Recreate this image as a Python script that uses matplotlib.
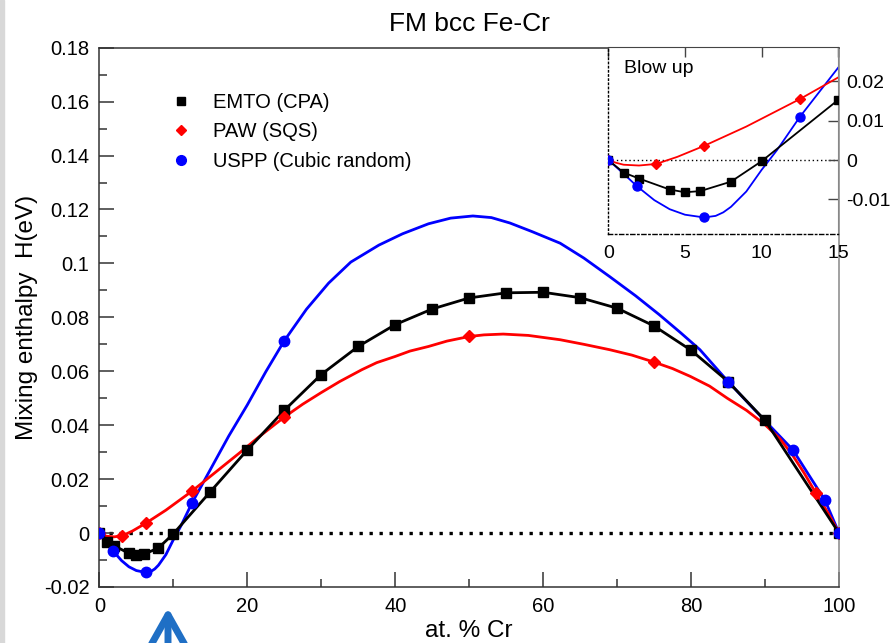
import matplotlib
matplotlib.use("Agg")
import matplotlib.pyplot as plt
from matplotlib.ticker import MultipleLocator, FormatStrFormatter
from matplotlib.patches import Rectangle

plt.rcParams['font.family'] = ['Liberation Sans', 'DejaVu Sans']
plt.rcParams['axes.unicode_minus'] = False

# EMTO (CPA) points, at.% Cr vs mixing enthalpy (eV)
emto_x = [0, 1, 2, 4, 5, 6, 8, 10, 15, 20, 25, 30, 35, 40, 45, 50, 55, 60, 65, 70, 75, 80, 85, 90, 100]
emto_y = [0, -0.0032, -0.0047, -0.0075, -0.0082, -0.0079, -0.0055, -0.0003, 0.0153, 0.0308, 0.0455,
          0.0588, 0.0692, 0.0773, 0.0831, 0.0872, 0.0891, 0.0893, 0.0873, 0.0834, 0.0768, 0.0678,
          0.0562, 0.0418, 0]

# PAW (SQS) points
paw_x = [0, 3.125, 6.25, 12.5, 25, 50, 75, 96.875, 100]
paw_y = [0, -0.001, 0.0036, 0.0155, 0.043, 0.0729, 0.0634, 0.0148, 0]

# USPP (cubic random) points
uspp_x = [0, 1.85, 6.25, 12.5, 25, 85, 93.75, 98.1, 100]
uspp_y = [0, -0.0066, -0.0146, 0.011, 0.0713, 0.0562, 0.0309, 0.0122, 0]

# fitted curves through PAW and USPP data
paw_cx = [0, 0.5, 1, 2, 3.125, 4.5, 6.25, 9, 12.5, 15, 18.9, 21.5, 25, 27.5, 30, 32.5, 35.5,
          37.5, 40, 42, 44.5, 47, 50, 52, 54.6, 58, 62.3, 65.5, 69, 72, 75, 77.5, 79.9, 82.5,
          84.9, 87.5, 90, 92, 93.7, 95.3, 96.875, 98.5, 100]
paw_cy = [0, -0.0007, -0.0012, -0.0014, -0.001, 0.0008, 0.0036, 0.0085, 0.0155, 0.021, 0.0296,
          0.0355, 0.043, 0.0478, 0.0521, 0.0562, 0.0606, 0.0632, 0.0655, 0.0675, 0.0692, 0.0712,
          0.0729, 0.0735, 0.0738, 0.0733, 0.0717, 0.0700, 0.068, 0.066, 0.0634, 0.061, 0.0581,
          0.0545, 0.050, 0.0455, 0.0402, 0.035, 0.029, 0.0222, 0.0148, 0.0075, 0]
uspp_cx = [0, 1, 1.85, 3, 4, 5, 6.25, 7, 7.5, 8, 9, 10, 11, 12.5, 15, 17.5, 20, 22.5, 25, 28,
           31, 34, 37.8, 41, 44.5, 47.5, 50.5, 53, 55.5, 58.5, 62.3, 65.5, 69, 72.5, 75.7, 78.5,
           81.2, 85, 89, 93.75, 96, 98.1, 100]
uspp_cy = [0, -0.0035, -0.0066, -0.0102, -0.0125, -0.0139, -0.0146, -0.0142, -0.0133, -0.0119,
           -0.008, -0.0025, 0.0025, 0.011, 0.0235, 0.036, 0.0475, 0.0598, 0.0713, 0.083, 0.0927,
           0.1005, 0.1068, 0.111, 0.1147, 0.1168, 0.1176, 0.117, 0.115, 0.1118, 0.1075, 0.102,
           0.0951, 0.088, 0.081, 0.0745, 0.068, 0.0562, 0.0445, 0.0309, 0.0212, 0.0122, 0]

fig = plt.figure(figsize=(8.9, 6.43), dpi=100)
fig.patches.append(Rectangle((0, 0), 3.5 / 890, 1, transform=fig.transFigure,
                             color='#d8d8d8', zorder=0))

ax = fig.add_axes([0.1116, 0.0871, 0.8311, 0.8387])

ax.axhline(0, color='black', ls=(0, (1, 2)), lw=2.4, zorder=1)
ax.plot(uspp_cx, uspp_cy, color='#0000ff', lw=2.0, zorder=2)
ax.plot(paw_cx, paw_cy, color='#ff0000', lw=2.0, zorder=3)
ax.plot(emto_x, emto_y, color='black', lw=2.0, marker='s', ms=7, zorder=4)
ax.plot(paw_x, paw_y, ls='none', marker='D', ms=6, color='#ff0000', zorder=5)
ax.plot(uspp_x, uspp_y, ls='none', marker='o', ms=7.5, color='#0000ff', zorder=6)

# legend shows markers only
h1, = ax.plot([], [], ls='none', marker='s', ms=6, color='black')
h2, = ax.plot([], [], ls='none', marker='D', ms=5.5, color='#ff0000')
h3, = ax.plot([], [], ls='none', marker='o', ms=7, color='#0000ff')
ax.legend([h1, h2, h3], ['EMTO (CPA)', 'PAW (SQS)', 'USPP (Cubic random)'],
          loc='upper left', bbox_to_anchor=(0.097, 0.916), frameon=False, fontsize=14.5,
          handlelength=1.0, handletextpad=1.1, labelspacing=0.52, borderpad=0, borderaxespad=0)

ax.set_xlim(0, 100)
ax.set_ylim(-0.02, 0.18)
ax.xaxis.set_major_locator(MultipleLocator(20))
ax.xaxis.set_minor_locator(MultipleLocator(10))
ax.yaxis.set_major_locator(MultipleLocator(0.02))
ax.yaxis.set_minor_locator(MultipleLocator(0.01))
ax.yaxis.set_major_formatter(FormatStrFormatter('%g'))
ax.tick_params(which='both', direction='in', top=False, right=False, width=1.1, color='#333333')
ax.tick_params(which='major', length=11, labelsize=14.5, pad=7)
ax.tick_params(which='minor', length=5.5)
for side in ['left', 'bottom', 'top']:
    ax.spines[side].set_color('#333333')
    ax.spines[side].set_linewidth(1.1)
ax.spines['right'].set_color('#888888')
ax.spines['right'].set_linewidth(1.1)

ax.set_title('FM bcc Fe-Cr', fontsize=19, pad=12)
ax.set_xlabel('at. % Cr', fontsize=17.5)
ax.xaxis.set_label_coords(0.5, -0.062)
ax.set_ylabel('Mixing enthalpy  H(eV)', fontsize=17.5)
ax.yaxis.set_label_coords(-0.083, 0.5)

# blow up of the dilute Cr region
ins = fig.add_axes([0.6835, 0.6361, 0.2584, 0.2913])
ins.axhline(0, color='black', ls=(0, (1, 2)), lw=1.0, zorder=1)
ins.plot(uspp_cx, uspp_cy, color='#0000ff', lw=1.3, zorder=2)
ins.plot(paw_cx, paw_cy, color='#ff0000', lw=1.3, zorder=3)
ins.plot(emto_x, emto_y, color='black', lw=1.3, marker='s', ms=6, zorder=4)
ins.plot(paw_x, paw_y, ls='none', marker='D', ms=5.5, color='#ff0000', zorder=5)
ins.plot(uspp_x, uspp_y, ls='none', marker='o', ms=6.5, color='#0000ff', zorder=6)
ins.set_xlim(0, 15)
ins.set_ylim(-0.0188, 0.0288)
ins.xaxis.set_major_locator(MultipleLocator(5))
ins.yaxis.set_major_locator(MultipleLocator(0.01))
ins.yaxis.set_major_formatter(FormatStrFormatter('%g'))
ins.yaxis.tick_right()
ins.tick_params(axis='x', direction='in', bottom=False, top=True, labelbottom=True,
                length=7, width=1.0, color='#444444', labelsize=14, pad=8)
ins.tick_params(axis='y', direction='in', left=False, right=True, length=7, width=1.0,
                color='#444444', labelsize=14, pad=6)
ins.spines['left'].set_linestyle((0, (1, 2)))
ins.spines['bottom'].set_linestyle((0, (3, 2, 1, 2)))
ins.spines['left'].set_linewidth(1.0)
ins.spines['bottom'].set_linewidth(1.0)
ins.spines['top'].set_color('#444444')
ins.spines['right'].set_color('#888888')
ins.text(0.07, 0.86, 'Blow up', transform=ins.transAxes, fontsize=14)

# pointer under the axis near 10 % Cr
arrow = fig.add_axes([0, 0, 1, 1], facecolor='none')
arrow.set_axis_off()
arrow.annotate('', xy=(168 / 890, 1 - 605 / 643), xytext=(168 / 890, -0.03),
               xycoords='figure fraction', textcoords='figure fraction',
               arrowprops=dict(arrowstyle='->,head_length=2.4,head_width=1.35',
                               color='#1f6fc5', lw=5, mutation_scale=10))

fig.savefig('out.png', dpi=100)
